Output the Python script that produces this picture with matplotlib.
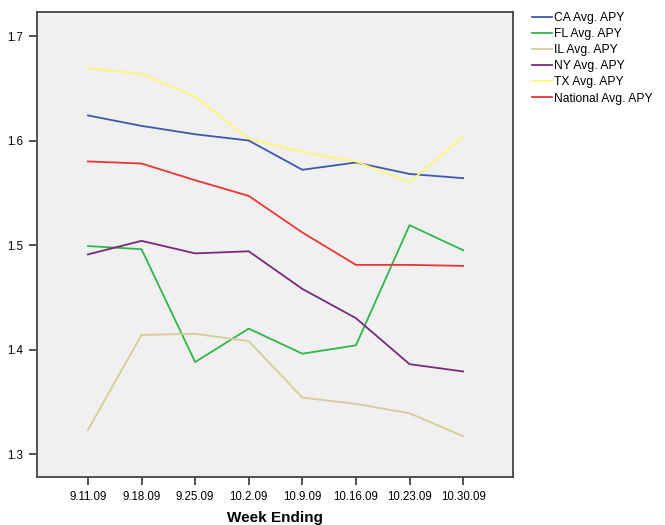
import matplotlib
matplotlib.use("Agg")
import matplotlib.pyplot as plt

weeks = ["9.11.09", "9.18.09", "9.25.09", "10.2.09", "10.9.09", "10.16.09", "10.23.09", "10.30.09"]

ca = [1.624, 1.614, 1.606, 1.600, 1.572, 1.579, 1.568, 1.564]
fl = [1.499, 1.496, 1.388, 1.420, 1.396, 1.404, 1.519, 1.495]
il = [1.323, 1.414, 1.415, 1.408, 1.354, 1.348, 1.339, 1.317]
ny = [1.491, 1.504, 1.492, 1.494, 1.458, 1.430, 1.386, 1.379]
tx = [1.669, 1.664, 1.642, 1.602, 1.589, 1.580, 1.560, 1.604]
national = [1.580, 1.578, 1.562, 1.547, 1.512, 1.481, 1.481, 1.480]

series = [
    ("CA Avg. APY", ca, "#3e58ac"),
    ("FL Avg. APY", fl, "#2eb848"),
    ("IL Avg. APY", il, "#d3ce97"),
    ("NY Avg. APY", ny, "#7c287d"),
    ("TX Avg. APY", tx, "#fbf873"),
    ("National Avg. APY", national, "#ef3338"),
]

plt.rcParams['font.family'] = ['Liberation Sans', 'DejaVu Sans']

fig = plt.figure(figsize=(6.65, 5.25), dpi=100)
ax = fig.add_axes([37/665, 48/525, (513-37)/665, (477-12)/525])
ax.set_facecolor("#f0f0f0")

x = list(range(len(weeks)))
for label, vals, col in series:
    ax.plot(x, vals, color=col, lw=1.3, label=label)

ax.set_xlim(-0.95, 7.93)
ax.set_ylim(1.278, 1.723)
ax.set_xticks(x)
ax.set_xticklabels(weeks, fontsize=8.3)
ax.set_yticks([1.3, 1.4, 1.5, 1.6, 1.7])
ax.set_yticklabels(["1.3", "1.4", "1.5", "1.6", "1.7"], fontsize=8.3)
ax.tick_params(direction="out", length=6, width=1.2, color="#333333", pad=4)
for s in ax.spines.values():
    s.set_color("#444444")
    s.set_linewidth(1.3)

# label sits low like the original, just inside the canvas
ax.set_xlabel("Week Ending", fontsize=11, fontweight="bold", labelpad=5.5)

fig.legend(loc="upper left", bbox_to_anchor=(532/665, 1 - 12/525), frameon=False,
           fontsize=8.7, handlelength=1.65, handletextpad=0.2, labelspacing=0.34,
           borderaxespad=0, borderpad=0)

fig.savefig("out.png", dpi=100)
